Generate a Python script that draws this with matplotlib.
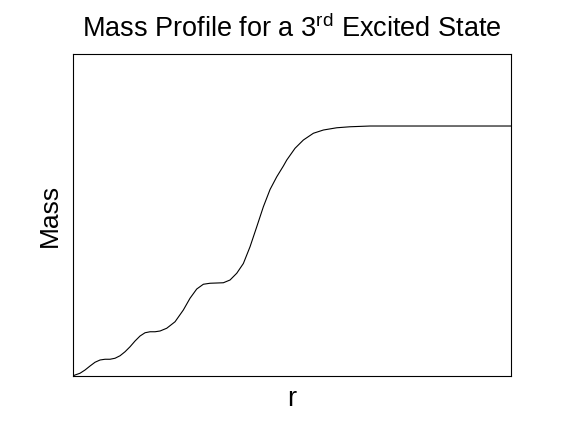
import matplotlib
matplotlib.use("Agg")
import matplotlib.pyplot as plt

plt.rcParams['font.family'] = 'Liberation Sans'
plt.rcParams['mathtext.fontset'] = 'custom'
plt.rcParams['mathtext.rm'] = 'Liberation Sans'

# radius and enclosed mass
r = [0.000, 0.055, 0.192, 0.329, 0.466, 0.603, 0.740, 0.877, 1.014, 1.151, 1.288,
     1.425, 1.562, 1.699, 1.836, 1.973, 2.110, 2.247, 2.384, 2.567, 2.795, 3.022,
     3.205, 3.389, 3.570, 3.753, 3.937, 4.118, 4.301, 4.485, 4.666, 4.849, 5.033,
     5.214, 5.397, 5.581, 5.762, 5.855, 6.082, 6.310, 6.584, 6.858, 7.225, 7.589,
     8.137, 12.0]
mass = [0.000, 0.004, 0.011, 0.024, 0.040, 0.055, 0.064, 0.067, 0.067, 0.071, 0.081,
        0.097, 0.117, 0.140, 0.160, 0.173, 0.177, 0.177, 0.180, 0.191, 0.217, 0.264,
        0.311, 0.348, 0.367, 0.371, 0.372, 0.373, 0.384, 0.411, 0.450, 0.517, 0.597,
        0.677, 0.746, 0.797, 0.840, 0.864, 0.911, 0.944, 0.971, 0.984, 0.993, 0.997,
        1.000, 1.000]

fig = plt.figure(figsize=(5.66, 4.22), dpi=100)
ax = fig.add_axes([0.129, 0.109, 0.774, 0.763])
ax.plot(r, mass, color="black", linewidth=0.8)
ax.set_xlim(0, 12)
ax.set_ylim(0, 1.288)
ax.set_xticks([])
ax.set_yticks([])
for s in ax.spines.values():
    s.set_linewidth(0.8)

ax.set_title(r"Mass Profile for a 3$^{\mathrm{rd}}$ Excited State", fontsize=19.5, pad=12)
ax.set_xlabel("r", fontsize=19.5, labelpad=7)
ax.set_ylabel("Mass", fontsize=19, labelpad=8)

fig.savefig("out.png", dpi=100)
